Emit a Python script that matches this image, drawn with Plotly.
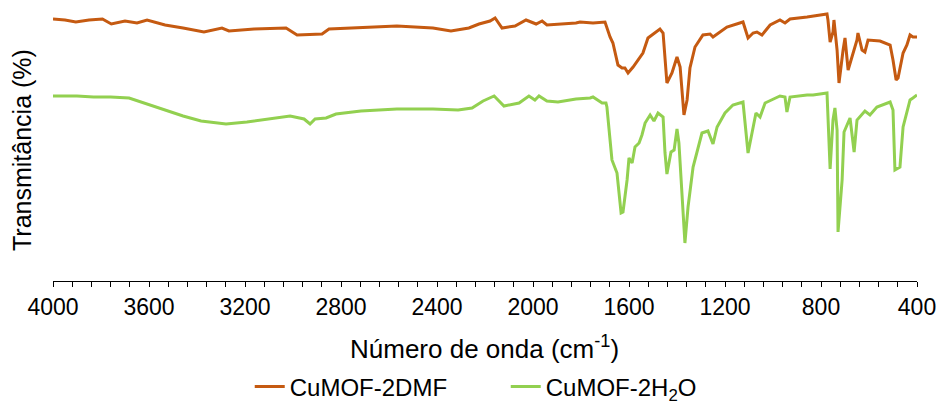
import plotly.graph_objects as go

# CuMOF-2DMF (orange) : wavenumber (cm-1) and relative transmittance (a.u.)
wn_dmf = [4000, 3950, 3905, 3850, 3794, 3757, 3700, 3650, 3608, 3533, 3458, 3420, 3371, 3296, 3267, 3162, 3029, 2983, 2879, 2850,
          2567, 2417, 2342, 2267, 2225, 2179, 2158, 2129, 2075, 2029, 1987, 1962, 1942, 1821,
          1804, 1750, 1700, 1679, 1667, 1646, 1629, 1617, 1604, 1583, 1562, 1542, 1521, 1492,
          1471, 1458, 1450, 1442, 1421, 1408, 1400, 1387, 1371, 1358, 1346, 1325, 1292, 1262,
          1250, 1192, 1125, 1104, 1083, 1067, 1046, 1012, 971, 950, 929, 858, 775, 771, 762,
          750, 746, 733, 725, 708, 700, 687, 667, 650, 646, 629, 617, 604, 554, 512, 500, 487,
          479, 458, 442, 429, 417, 400]
t_dmf = [262, 261, 259, 261, 262, 257, 260, 258, 261, 256, 253, 251, 249, 253, 250, 252, 253, 246, 247, 252,
         255, 253, 250, 253, 257, 260, 263, 253, 255, 261, 257, 260, 256, 258,
         259, 258, 259, 244, 238, 216, 213, 213, 208, 214, 221, 228, 243, 248,
         252, 248, 218, 198, 208, 218, 224, 214, 166, 181, 213, 234, 246, 247,
         244, 254, 259, 243, 248, 249, 246, 256, 261, 258, 262, 264, 267, 261, 239,
         249, 261, 231, 198, 231, 243, 211, 226, 241, 248, 231, 229, 241, 240, 236, 221, 201,
         203, 228, 236, 246, 244, 244]

# CuMOF-2H2O (green)
wn_h2o = [4000, 3900, 3831, 3760, 3683, 3608, 3533, 3458, 3383, 3279, 3192, 3100, 3012, 2954, 2929, 2908, 2862,
          2821, 2717, 2567, 2417, 2312, 2254, 2208, 2162, 2121, 2058, 2017, 1992, 1975, 1942,
          1896, 1821, 1762, 1750, 1712, 1696, 1692, 1671, 1650, 1633, 1625, 1608, 1600, 1587,
          1575, 1558, 1546, 1533, 1512, 1496, 1479, 1458, 1450, 1442, 1425, 1412, 1400, 1392,
          1367, 1354, 1333, 1296, 1271, 1250, 1233, 1200, 1167, 1125, 1104, 1083, 1071, 1054,
          1033, 971, 950, 942, 929, 858, 833, 775, 771, 762, 750, 742, 733, 729, 712, 704,
          679, 667, 662, 650, 617, 596, 567, 512, 500, 492, 471, 458, 429, 417, 400]
t_h2o = [185, 185, 184, 184, 183, 177, 171, 165, 160, 157, 159, 162, 165, 162, 157, 162, 163,
         167, 170, 172, 172, 171, 173, 180, 185, 175, 178, 185, 181, 185, 180,
         179, 182, 183, 184, 178, 178, 174, 121, 108, 68, 69, 101, 123, 118,
         134, 138, 146, 158, 166, 160, 168, 164, 128, 107, 129, 131, 152, 138,
         38, 74, 114, 148, 150, 137, 154, 168, 176, 179, 128, 154, 168, 164,
         178, 185, 184, 169, 184, 186, 186, 188, 168, 112, 161, 173, 151, 49, 101, 149,
         163, 134, 129, 161, 170, 166, 174, 179, 171, 111, 114, 154, 181, 183, 186]

x_tick_vals = [4000, 3600, 3200, 2800, 2400, 2000, 1600, 1200, 800, 400]
x_tick_text = ["4000", "3600", "3200", "2800", "2400", "2000", "1600", "1200", "800", "400"]

FONT = "Liberation Sans, Arial, sans-serif"

fig = go.Figure()
fig.add_trace(go.Scatter(x=wn_dmf, y=t_dmf, mode="lines", name="CuMOF-2DMF",
                         line=dict(color="#C55A11", width=3)))
fig.add_trace(go.Scatter(x=wn_h2o, y=t_h2o, mode="lines", name="CuMOF-2H<sub>2</sub>O",
                         line=dict(color="#92D050", width=3)))

fig.update_layout(
    width=938, height=403,
    margin=dict(l=53, r=21, t=10, b=122, autoexpand=False),
    paper_bgcolor="white", plot_bgcolor="white",
    font=dict(family=FONT, size=23, color="#000000"),
    showlegend=True,
    legend=dict(orientation="h", x=0.524, xanchor="center", y=(281 - 387) / 271, yanchor="middle",
                font=dict(size=24), tracegroupgap=0, entrywidth=211, entrywidthmode="pixels"),
)
fig.update_xaxes(
    range=[4000, 400], autorange=False, automargin=False,
    tickmode="array", tickvals=x_tick_vals, ticktext=x_tick_text,
    ticks="outside", ticklen=5, tickwidth=1, tickcolor="#000000",
    minor=dict(dtick=80, tick0=400, ticks="outside", ticklen=5, tickwidth=1, tickcolor="#000000"),
    showline=True, linecolor="#000000", linewidth=1,
    showgrid=False, zeroline=False,
    tickfont=dict(size=23),
)
fig.update_yaxes(range=[0, 271], autorange=False, automargin=False, showticklabels=False, ticks="",
                 showgrid=False, zeroline=False, showline=False)

fig.add_annotation(text="Número de onda (cm<sup>-1</sup>)", xref="paper", yref="paper",
                   x=(484 - 53) / 864, y=(281 - 347) / 271, xanchor="center", yanchor="middle",
                   showarrow=False, font=dict(size=26))
fig.add_annotation(text="Transmitância (%)", xref="paper", yref="paper",
                   x=(22 - 53) / 864, y=(281 - 150) / 271, xanchor="center", yanchor="middle",
                   textangle=-90, showarrow=False, font=dict(size=25))

fig.write_html("out.html")
